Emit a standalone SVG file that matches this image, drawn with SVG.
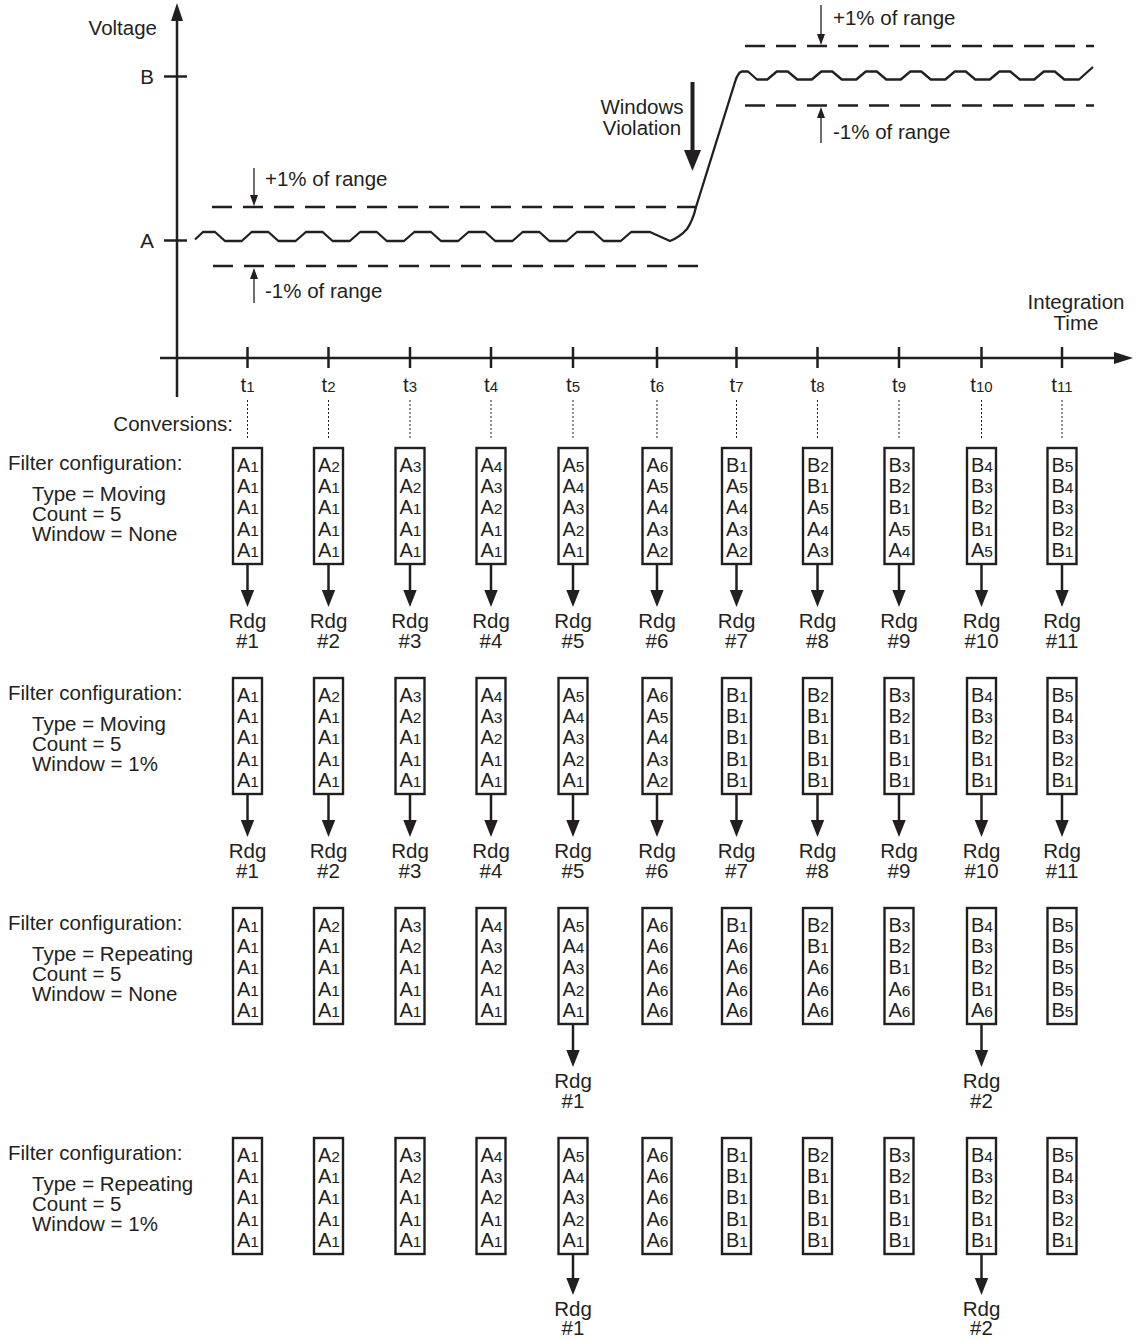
<svg xmlns="http://www.w3.org/2000/svg" width="1139" height="1339" viewBox="0 0 1139 1339">
<style>
text{font-family:"Liberation Sans",Arial,Helvetica,sans-serif;font-size:20.5px;fill:#231f20}
.mid{text-anchor:middle}.end{text-anchor:end}
.sub{font-size:15px}
.ln{stroke:#231f20;stroke-width:2.5;fill:none}
.thin{stroke:#231f20;stroke-width:1.3;fill:none}
.big{stroke:#231f20;stroke-width:4;fill:none}
.dash{stroke:#231f20;stroke-width:2.5;stroke-dasharray:20 11;fill:none}
.dot{stroke:#231f20;stroke-width:1;stroke-dasharray:2 2;fill:none}
.wave{stroke:#231f20;stroke-width:2.3;fill:none;stroke-linejoin:round}
.node rect{fill:#fff;stroke:#231f20;stroke-width:2.4}
.node text{font-size:20px}
.node .s{font-size:15.5px}
.rdg text{text-anchor:middle}
</style>
<defs>
<marker id="ah" markerUnits="userSpaceOnUse" markerWidth="17" markerHeight="14" viewBox="0 0 17 14" refX="10" refY="7" orient="auto"><path d="M0,0.3L17,7L0,13.7z" fill="#231f20"/></marker>
<marker id="ahs" markerUnits="userSpaceOnUse" markerWidth="11" markerHeight="8" viewBox="0 0 11 8" refX="5" refY="4" orient="auto"><path d="M0,0L11,4L0,8z" fill="#231f20"/></marker>
<marker id="ahb" markerUnits="userSpaceOnUse" markerWidth="21" markerHeight="17" viewBox="0 0 21 17" refX="9" refY="8.5" orient="auto"><path d="M0,0L21,8.5L0,17z" fill="#231f20"/></marker>
</defs>
<rect width="1139" height="1339" fill="#fff"/>

<g id="chart">
  <g id="axes">
    <line class="ln" x1="177" y1="20" x2="177" y2="397"/>
    <polygon points="177,3 171,21 183,21" fill="#231f20"/>
    <line class="ln" x1="160" y1="358" x2="1116" y2="358"/>
    <polygon points="1133,358 1114,352 1114,364" fill="#231f20"/>
    <line class="ln" x1="164" y1="76.5" x2="187" y2="76.5"/>
    <line class="ln" x1="164" y1="240.5" x2="187" y2="240.5"/>
    <path class="ln" d="M247.5 347V368M328.5 347V368M410 347V368M491 347V368M573 347V368M657 347V368M736.5 347V368M817.5 347V368M899 347V368M981.5 347V368M1062 347V368"/>
    <text class="end" x="157" y="35">Voltage</text>
    <text class="end" x="154" y="84">B</text>
    <text class="end" x="154" y="248">A</text>
    <text class="mid" x="1076" y="309">Integration</text>
    <text class="mid" x="1076" y="330">Time</text>
  </g>
  <g id="time-labels">
    <text class="mid" x="247.5" y="392">t<tspan class="sub">1</tspan></text>
    <text class="mid" x="328.5" y="392">t<tspan class="sub">2</tspan></text>
    <text class="mid" x="410" y="392">t<tspan class="sub">3</tspan></text>
    <text class="mid" x="491" y="392">t<tspan class="sub">4</tspan></text>
    <text class="mid" x="573" y="392">t<tspan class="sub">5</tspan></text>
    <text class="mid" x="657" y="392">t<tspan class="sub">6</tspan></text>
    <text class="mid" x="736.5" y="392">t<tspan class="sub">7</tspan></text>
    <text class="mid" x="817.5" y="392">t<tspan class="sub">8</tspan></text>
    <text class="mid" x="899" y="392">t<tspan class="sub">9</tspan></text>
    <text class="mid" x="981.5" y="392">t<tspan class="sub">10</tspan></text>
    <text class="mid" x="1062" y="392">t<tspan class="sub">11</tspan></text>
  </g>
  <g id="bands">
    <line class="dash" x1="212" y1="207" x2="700" y2="207"/>
    <line class="dash" x1="213" y1="266" x2="701" y2="266"/>
    <line class="dash" x1="745" y1="46" x2="1094" y2="46"/>
    <line class="dash" x1="745" y1="105.5" x2="1094" y2="105.5"/>
    <line class="thin" x1="254" y1="168" x2="254" y2="200" marker-end="url(#ahs)"/>
    <line class="thin" x1="254" y1="303" x2="254" y2="274" marker-end="url(#ahs)"/>
    <line class="thin" x1="821" y1="5" x2="821" y2="39" marker-end="url(#ahs)"/>
    <line class="thin" x1="821" y1="143" x2="821" y2="113" marker-end="url(#ahs)"/>
    <text x="265" y="186">+1% of range</text>
    <text x="265" y="298">-1% of range</text>
    <text x="833" y="25">+1% of range</text>
    <text x="833" y="139">-1% of range</text>
  </g>
  <g id="signal">
    <path class="wave" d="M195,239.5L203,232H215L225,241H241.7L251.7,232H268.4L278.4,241H295.6L305.9,232H322.6L332.6,241H349.8L360.1,232H376.8L386.8,241H404L414.3,232H431L441,241H458.2L468.5,232H485.2L495.2,241H512.4L522.7,232H539.4L549.4,241H566.6L576.9,232H593.6L603.6,241H620.8L631.1,232H650L670,241Q680,237 687,229Q693,220 696,207L735,82Q738,72 742,71.5H748L757,79.5H767.3L776.8,71.5H787.8L797.3,79.5H811.8L821.3,71.5H832.3L841.8,79.5H856.3L865.8,71.5H876.8L886.3,79.5H900.8L910.3,71.5H921.3L930.8,79.5H945.3L954.8,71.5H965.8L975.3,79.5H989.8L999.3,71.5H1010.3L1019.8,79.5H1034.3L1043.8,71.5H1054.8L1064.3,79.5H1079L1093,67"/>
  </g>
  <g id="violation">
    <line class="big" x1="692.5" y1="82" x2="692.5" y2="159" marker-end="url(#ahb)"/>
    <text class="mid" x="642" y="114">Windows</text>
    <text class="mid" x="642" y="135">Violation</text>
  </g>
  <g id="conversions">
    <text class="end" x="233" y="431">Conversions:</text>
    <path class="dot" d="M247.5 400V438M328.5 400V438M410 400V438M491 400V438M573 400V438M657 400V438M736.5 400V438M817.5 400V438M899 400V438M981.5 400V438M1062 400V438"/>
  </g>
</g>

<g id="config-1">
  <text x="8" y="470">Filter configuration:</text>
  <text x="32" y="500.5">Type = Moving</text>
  <text x="32" y="520.5">Count = 5</text>
  <text x="32" y="540.5">Window = None</text>
</g>
<g id="config-2" transform="translate(0 230)">
  <text x="8" y="470">Filter configuration:</text>
  <text x="32" y="500.5">Type = Moving</text>
  <text x="32" y="520.5">Count = 5</text>
  <text x="32" y="540.5">Window = 1%</text>
</g>
<g id="config-3" transform="translate(0 460)">
  <text x="8" y="470">Filter configuration:</text>
  <text x="32" y="500.5">Type = Repeating</text>
  <text x="32" y="520.5">Count = 5</text>
  <text x="32" y="540.5">Window = None</text>
</g>
<g id="config-4" transform="translate(0 690)">
  <text x="8" y="470">Filter configuration:</text>
  <text x="32" y="500.5">Type = Repeating</text>
  <text x="32" y="520.5">Count = 5</text>
  <text x="32" y="540.5">Window = 1%</text>
</g>

<!-- Section 1 -->
<g id="s1-t1" class="node" transform="translate(247.5 448)"><rect x="-14.5" width="29" height="116"/><text x="-10.5" y="24">A<tspan class="s">1</tspan></text><text x="-10.5" y="45.2">A<tspan class="s">1</tspan></text><text x="-10.5" y="66.4">A<tspan class="s">1</tspan></text><text x="-10.5" y="87.6">A<tspan class="s">1</tspan></text><text x="-10.5" y="108.8">A<tspan class="s">1</tspan></text></g>
<g id="s1-t2" class="node" transform="translate(328.5 448)"><rect x="-14.5" width="29" height="116"/><text x="-10.5" y="24">A<tspan class="s">2</tspan></text><text x="-10.5" y="45.2">A<tspan class="s">1</tspan></text><text x="-10.5" y="66.4">A<tspan class="s">1</tspan></text><text x="-10.5" y="87.6">A<tspan class="s">1</tspan></text><text x="-10.5" y="108.8">A<tspan class="s">1</tspan></text></g>
<g id="s1-t3" class="node" transform="translate(410 448)"><rect x="-14.5" width="29" height="116"/><text x="-10.5" y="24">A<tspan class="s">3</tspan></text><text x="-10.5" y="45.2">A<tspan class="s">2</tspan></text><text x="-10.5" y="66.4">A<tspan class="s">1</tspan></text><text x="-10.5" y="87.6">A<tspan class="s">1</tspan></text><text x="-10.5" y="108.8">A<tspan class="s">1</tspan></text></g>
<g id="s1-t4" class="node" transform="translate(491 448)"><rect x="-14.5" width="29" height="116"/><text x="-10.5" y="24">A<tspan class="s">4</tspan></text><text x="-10.5" y="45.2">A<tspan class="s">3</tspan></text><text x="-10.5" y="66.4">A<tspan class="s">2</tspan></text><text x="-10.5" y="87.6">A<tspan class="s">1</tspan></text><text x="-10.5" y="108.8">A<tspan class="s">1</tspan></text></g>
<g id="s1-t5" class="node" transform="translate(573 448)"><rect x="-14.5" width="29" height="116"/><text x="-10.5" y="24">A<tspan class="s">5</tspan></text><text x="-10.5" y="45.2">A<tspan class="s">4</tspan></text><text x="-10.5" y="66.4">A<tspan class="s">3</tspan></text><text x="-10.5" y="87.6">A<tspan class="s">2</tspan></text><text x="-10.5" y="108.8">A<tspan class="s">1</tspan></text></g>
<g id="s1-t6" class="node" transform="translate(657 448)"><rect x="-14.5" width="29" height="116"/><text x="-10.5" y="24">A<tspan class="s">6</tspan></text><text x="-10.5" y="45.2">A<tspan class="s">5</tspan></text><text x="-10.5" y="66.4">A<tspan class="s">4</tspan></text><text x="-10.5" y="87.6">A<tspan class="s">3</tspan></text><text x="-10.5" y="108.8">A<tspan class="s">2</tspan></text></g>
<g id="s1-t7" class="node" transform="translate(736.5 448)"><rect x="-14.5" width="29" height="116"/><text x="-10.5" y="24">B<tspan class="s">1</tspan></text><text x="-10.5" y="45.2">A<tspan class="s">5</tspan></text><text x="-10.5" y="66.4">A<tspan class="s">4</tspan></text><text x="-10.5" y="87.6">A<tspan class="s">3</tspan></text><text x="-10.5" y="108.8">A<tspan class="s">2</tspan></text></g>
<g id="s1-t8" class="node" transform="translate(817.5 448)"><rect x="-14.5" width="29" height="116"/><text x="-10.5" y="24">B<tspan class="s">2</tspan></text><text x="-10.5" y="45.2">B<tspan class="s">1</tspan></text><text x="-10.5" y="66.4">A<tspan class="s">5</tspan></text><text x="-10.5" y="87.6">A<tspan class="s">4</tspan></text><text x="-10.5" y="108.8">A<tspan class="s">3</tspan></text></g>
<g id="s1-t9" class="node" transform="translate(899 448)"><rect x="-14.5" width="29" height="116"/><text x="-10.5" y="24">B<tspan class="s">3</tspan></text><text x="-10.5" y="45.2">B<tspan class="s">2</tspan></text><text x="-10.5" y="66.4">B<tspan class="s">1</tspan></text><text x="-10.5" y="87.6">A<tspan class="s">5</tspan></text><text x="-10.5" y="108.8">A<tspan class="s">4</tspan></text></g>
<g id="s1-t10" class="node" transform="translate(981.5 448)"><rect x="-14.5" width="29" height="116"/><text x="-10.5" y="24">B<tspan class="s">4</tspan></text><text x="-10.5" y="45.2">B<tspan class="s">3</tspan></text><text x="-10.5" y="66.4">B<tspan class="s">2</tspan></text><text x="-10.5" y="87.6">B<tspan class="s">1</tspan></text><text x="-10.5" y="108.8">A<tspan class="s">5</tspan></text></g>
<g id="s1-t11" class="node" transform="translate(1062 448)"><rect x="-14.5" width="29" height="116"/><text x="-10.5" y="24">B<tspan class="s">5</tspan></text><text x="-10.5" y="45.2">B<tspan class="s">4</tspan></text><text x="-10.5" y="66.4">B<tspan class="s">3</tspan></text><text x="-10.5" y="87.6">B<tspan class="s">2</tspan></text><text x="-10.5" y="108.8">B<tspan class="s">1</tspan></text></g>

<!-- Section 2 -->
<g id="s2-t1" class="node" transform="translate(247.5 678)"><rect x="-14.5" width="29" height="116"/><text x="-10.5" y="24">A<tspan class="s">1</tspan></text><text x="-10.5" y="45.2">A<tspan class="s">1</tspan></text><text x="-10.5" y="66.4">A<tspan class="s">1</tspan></text><text x="-10.5" y="87.6">A<tspan class="s">1</tspan></text><text x="-10.5" y="108.8">A<tspan class="s">1</tspan></text></g>
<g id="s2-t2" class="node" transform="translate(328.5 678)"><rect x="-14.5" width="29" height="116"/><text x="-10.5" y="24">A<tspan class="s">2</tspan></text><text x="-10.5" y="45.2">A<tspan class="s">1</tspan></text><text x="-10.5" y="66.4">A<tspan class="s">1</tspan></text><text x="-10.5" y="87.6">A<tspan class="s">1</tspan></text><text x="-10.5" y="108.8">A<tspan class="s">1</tspan></text></g>
<g id="s2-t3" class="node" transform="translate(410 678)"><rect x="-14.5" width="29" height="116"/><text x="-10.5" y="24">A<tspan class="s">3</tspan></text><text x="-10.5" y="45.2">A<tspan class="s">2</tspan></text><text x="-10.5" y="66.4">A<tspan class="s">1</tspan></text><text x="-10.5" y="87.6">A<tspan class="s">1</tspan></text><text x="-10.5" y="108.8">A<tspan class="s">1</tspan></text></g>
<g id="s2-t4" class="node" transform="translate(491 678)"><rect x="-14.5" width="29" height="116"/><text x="-10.5" y="24">A<tspan class="s">4</tspan></text><text x="-10.5" y="45.2">A<tspan class="s">3</tspan></text><text x="-10.5" y="66.4">A<tspan class="s">2</tspan></text><text x="-10.5" y="87.6">A<tspan class="s">1</tspan></text><text x="-10.5" y="108.8">A<tspan class="s">1</tspan></text></g>
<g id="s2-t5" class="node" transform="translate(573 678)"><rect x="-14.5" width="29" height="116"/><text x="-10.5" y="24">A<tspan class="s">5</tspan></text><text x="-10.5" y="45.2">A<tspan class="s">4</tspan></text><text x="-10.5" y="66.4">A<tspan class="s">3</tspan></text><text x="-10.5" y="87.6">A<tspan class="s">2</tspan></text><text x="-10.5" y="108.8">A<tspan class="s">1</tspan></text></g>
<g id="s2-t6" class="node" transform="translate(657 678)"><rect x="-14.5" width="29" height="116"/><text x="-10.5" y="24">A<tspan class="s">6</tspan></text><text x="-10.5" y="45.2">A<tspan class="s">5</tspan></text><text x="-10.5" y="66.4">A<tspan class="s">4</tspan></text><text x="-10.5" y="87.6">A<tspan class="s">3</tspan></text><text x="-10.5" y="108.8">A<tspan class="s">2</tspan></text></g>
<g id="s2-t7" class="node" transform="translate(736.5 678)"><rect x="-14.5" width="29" height="116"/><text x="-10.5" y="24">B<tspan class="s">1</tspan></text><text x="-10.5" y="45.2">B<tspan class="s">1</tspan></text><text x="-10.5" y="66.4">B<tspan class="s">1</tspan></text><text x="-10.5" y="87.6">B<tspan class="s">1</tspan></text><text x="-10.5" y="108.8">B<tspan class="s">1</tspan></text></g>
<g id="s2-t8" class="node" transform="translate(817.5 678)"><rect x="-14.5" width="29" height="116"/><text x="-10.5" y="24">B<tspan class="s">2</tspan></text><text x="-10.5" y="45.2">B<tspan class="s">1</tspan></text><text x="-10.5" y="66.4">B<tspan class="s">1</tspan></text><text x="-10.5" y="87.6">B<tspan class="s">1</tspan></text><text x="-10.5" y="108.8">B<tspan class="s">1</tspan></text></g>
<g id="s2-t9" class="node" transform="translate(899 678)"><rect x="-14.5" width="29" height="116"/><text x="-10.5" y="24">B<tspan class="s">3</tspan></text><text x="-10.5" y="45.2">B<tspan class="s">2</tspan></text><text x="-10.5" y="66.4">B<tspan class="s">1</tspan></text><text x="-10.5" y="87.6">B<tspan class="s">1</tspan></text><text x="-10.5" y="108.8">B<tspan class="s">1</tspan></text></g>
<g id="s2-t10" class="node" transform="translate(981.5 678)"><rect x="-14.5" width="29" height="116"/><text x="-10.5" y="24">B<tspan class="s">4</tspan></text><text x="-10.5" y="45.2">B<tspan class="s">3</tspan></text><text x="-10.5" y="66.4">B<tspan class="s">2</tspan></text><text x="-10.5" y="87.6">B<tspan class="s">1</tspan></text><text x="-10.5" y="108.8">B<tspan class="s">1</tspan></text></g>
<g id="s2-t11" class="node" transform="translate(1062 678)"><rect x="-14.5" width="29" height="116"/><text x="-10.5" y="24">B<tspan class="s">5</tspan></text><text x="-10.5" y="45.2">B<tspan class="s">4</tspan></text><text x="-10.5" y="66.4">B<tspan class="s">3</tspan></text><text x="-10.5" y="87.6">B<tspan class="s">2</tspan></text><text x="-10.5" y="108.8">B<tspan class="s">1</tspan></text></g>

<!-- Section 3 -->
<g id="s3-t1" class="node" transform="translate(247.5 908)"><rect x="-14.5" width="29" height="116"/><text x="-10.5" y="24">A<tspan class="s">1</tspan></text><text x="-10.5" y="45.2">A<tspan class="s">1</tspan></text><text x="-10.5" y="66.4">A<tspan class="s">1</tspan></text><text x="-10.5" y="87.6">A<tspan class="s">1</tspan></text><text x="-10.5" y="108.8">A<tspan class="s">1</tspan></text></g>
<g id="s3-t2" class="node" transform="translate(328.5 908)"><rect x="-14.5" width="29" height="116"/><text x="-10.5" y="24">A<tspan class="s">2</tspan></text><text x="-10.5" y="45.2">A<tspan class="s">1</tspan></text><text x="-10.5" y="66.4">A<tspan class="s">1</tspan></text><text x="-10.5" y="87.6">A<tspan class="s">1</tspan></text><text x="-10.5" y="108.8">A<tspan class="s">1</tspan></text></g>
<g id="s3-t3" class="node" transform="translate(410 908)"><rect x="-14.5" width="29" height="116"/><text x="-10.5" y="24">A<tspan class="s">3</tspan></text><text x="-10.5" y="45.2">A<tspan class="s">2</tspan></text><text x="-10.5" y="66.4">A<tspan class="s">1</tspan></text><text x="-10.5" y="87.6">A<tspan class="s">1</tspan></text><text x="-10.5" y="108.8">A<tspan class="s">1</tspan></text></g>
<g id="s3-t4" class="node" transform="translate(491 908)"><rect x="-14.5" width="29" height="116"/><text x="-10.5" y="24">A<tspan class="s">4</tspan></text><text x="-10.5" y="45.2">A<tspan class="s">3</tspan></text><text x="-10.5" y="66.4">A<tspan class="s">2</tspan></text><text x="-10.5" y="87.6">A<tspan class="s">1</tspan></text><text x="-10.5" y="108.8">A<tspan class="s">1</tspan></text></g>
<g id="s3-t5" class="node" transform="translate(573 908)"><rect x="-14.5" width="29" height="116"/><text x="-10.5" y="24">A<tspan class="s">5</tspan></text><text x="-10.5" y="45.2">A<tspan class="s">4</tspan></text><text x="-10.5" y="66.4">A<tspan class="s">3</tspan></text><text x="-10.5" y="87.6">A<tspan class="s">2</tspan></text><text x="-10.5" y="108.8">A<tspan class="s">1</tspan></text></g>
<g id="s3-t6" class="node" transform="translate(657 908)"><rect x="-14.5" width="29" height="116"/><text x="-10.5" y="24">A<tspan class="s">6</tspan></text><text x="-10.5" y="45.2">A<tspan class="s">6</tspan></text><text x="-10.5" y="66.4">A<tspan class="s">6</tspan></text><text x="-10.5" y="87.6">A<tspan class="s">6</tspan></text><text x="-10.5" y="108.8">A<tspan class="s">6</tspan></text></g>
<g id="s3-t7" class="node" transform="translate(736.5 908)"><rect x="-14.5" width="29" height="116"/><text x="-10.5" y="24">B<tspan class="s">1</tspan></text><text x="-10.5" y="45.2">A<tspan class="s">6</tspan></text><text x="-10.5" y="66.4">A<tspan class="s">6</tspan></text><text x="-10.5" y="87.6">A<tspan class="s">6</tspan></text><text x="-10.5" y="108.8">A<tspan class="s">6</tspan></text></g>
<g id="s3-t8" class="node" transform="translate(817.5 908)"><rect x="-14.5" width="29" height="116"/><text x="-10.5" y="24">B<tspan class="s">2</tspan></text><text x="-10.5" y="45.2">B<tspan class="s">1</tspan></text><text x="-10.5" y="66.4">A<tspan class="s">6</tspan></text><text x="-10.5" y="87.6">A<tspan class="s">6</tspan></text><text x="-10.5" y="108.8">A<tspan class="s">6</tspan></text></g>
<g id="s3-t9" class="node" transform="translate(899 908)"><rect x="-14.5" width="29" height="116"/><text x="-10.5" y="24">B<tspan class="s">3</tspan></text><text x="-10.5" y="45.2">B<tspan class="s">2</tspan></text><text x="-10.5" y="66.4">B<tspan class="s">1</tspan></text><text x="-10.5" y="87.6">A<tspan class="s">6</tspan></text><text x="-10.5" y="108.8">A<tspan class="s">6</tspan></text></g>
<g id="s3-t10" class="node" transform="translate(981.5 908)"><rect x="-14.5" width="29" height="116"/><text x="-10.5" y="24">B<tspan class="s">4</tspan></text><text x="-10.5" y="45.2">B<tspan class="s">3</tspan></text><text x="-10.5" y="66.4">B<tspan class="s">2</tspan></text><text x="-10.5" y="87.6">B<tspan class="s">1</tspan></text><text x="-10.5" y="108.8">A<tspan class="s">6</tspan></text></g>
<g id="s3-t11" class="node" transform="translate(1062 908)"><rect x="-14.5" width="29" height="116"/><text x="-10.5" y="24">B<tspan class="s">5</tspan></text><text x="-10.5" y="45.2">B<tspan class="s">5</tspan></text><text x="-10.5" y="66.4">B<tspan class="s">5</tspan></text><text x="-10.5" y="87.6">B<tspan class="s">5</tspan></text><text x="-10.5" y="108.8">B<tspan class="s">5</tspan></text></g>

<!-- Section 4 -->
<g id="s4-t1" class="node" transform="translate(247.5 1138)"><rect x="-14.5" width="29" height="116"/><text x="-10.5" y="24">A<tspan class="s">1</tspan></text><text x="-10.5" y="45.2">A<tspan class="s">1</tspan></text><text x="-10.5" y="66.4">A<tspan class="s">1</tspan></text><text x="-10.5" y="87.6">A<tspan class="s">1</tspan></text><text x="-10.5" y="108.8">A<tspan class="s">1</tspan></text></g>
<g id="s4-t2" class="node" transform="translate(328.5 1138)"><rect x="-14.5" width="29" height="116"/><text x="-10.5" y="24">A<tspan class="s">2</tspan></text><text x="-10.5" y="45.2">A<tspan class="s">1</tspan></text><text x="-10.5" y="66.4">A<tspan class="s">1</tspan></text><text x="-10.5" y="87.6">A<tspan class="s">1</tspan></text><text x="-10.5" y="108.8">A<tspan class="s">1</tspan></text></g>
<g id="s4-t3" class="node" transform="translate(410 1138)"><rect x="-14.5" width="29" height="116"/><text x="-10.5" y="24">A<tspan class="s">3</tspan></text><text x="-10.5" y="45.2">A<tspan class="s">2</tspan></text><text x="-10.5" y="66.4">A<tspan class="s">1</tspan></text><text x="-10.5" y="87.6">A<tspan class="s">1</tspan></text><text x="-10.5" y="108.8">A<tspan class="s">1</tspan></text></g>
<g id="s4-t4" class="node" transform="translate(491 1138)"><rect x="-14.5" width="29" height="116"/><text x="-10.5" y="24">A<tspan class="s">4</tspan></text><text x="-10.5" y="45.2">A<tspan class="s">3</tspan></text><text x="-10.5" y="66.4">A<tspan class="s">2</tspan></text><text x="-10.5" y="87.6">A<tspan class="s">1</tspan></text><text x="-10.5" y="108.8">A<tspan class="s">1</tspan></text></g>
<g id="s4-t5" class="node" transform="translate(573 1138)"><rect x="-14.5" width="29" height="116"/><text x="-10.5" y="24">A<tspan class="s">5</tspan></text><text x="-10.5" y="45.2">A<tspan class="s">4</tspan></text><text x="-10.5" y="66.4">A<tspan class="s">3</tspan></text><text x="-10.5" y="87.6">A<tspan class="s">2</tspan></text><text x="-10.5" y="108.8">A<tspan class="s">1</tspan></text></g>
<g id="s4-t6" class="node" transform="translate(657 1138)"><rect x="-14.5" width="29" height="116"/><text x="-10.5" y="24">A<tspan class="s">6</tspan></text><text x="-10.5" y="45.2">A<tspan class="s">6</tspan></text><text x="-10.5" y="66.4">A<tspan class="s">6</tspan></text><text x="-10.5" y="87.6">A<tspan class="s">6</tspan></text><text x="-10.5" y="108.8">A<tspan class="s">6</tspan></text></g>
<g id="s4-t7" class="node" transform="translate(736.5 1138)"><rect x="-14.5" width="29" height="116"/><text x="-10.5" y="24">B<tspan class="s">1</tspan></text><text x="-10.5" y="45.2">B<tspan class="s">1</tspan></text><text x="-10.5" y="66.4">B<tspan class="s">1</tspan></text><text x="-10.5" y="87.6">B<tspan class="s">1</tspan></text><text x="-10.5" y="108.8">B<tspan class="s">1</tspan></text></g>
<g id="s4-t8" class="node" transform="translate(817.5 1138)"><rect x="-14.5" width="29" height="116"/><text x="-10.5" y="24">B<tspan class="s">2</tspan></text><text x="-10.5" y="45.2">B<tspan class="s">1</tspan></text><text x="-10.5" y="66.4">B<tspan class="s">1</tspan></text><text x="-10.5" y="87.6">B<tspan class="s">1</tspan></text><text x="-10.5" y="108.8">B<tspan class="s">1</tspan></text></g>
<g id="s4-t9" class="node" transform="translate(899 1138)"><rect x="-14.5" width="29" height="116"/><text x="-10.5" y="24">B<tspan class="s">3</tspan></text><text x="-10.5" y="45.2">B<tspan class="s">2</tspan></text><text x="-10.5" y="66.4">B<tspan class="s">1</tspan></text><text x="-10.5" y="87.6">B<tspan class="s">1</tspan></text><text x="-10.5" y="108.8">B<tspan class="s">1</tspan></text></g>
<g id="s4-t10" class="node" transform="translate(981.5 1138)"><rect x="-14.5" width="29" height="116"/><text x="-10.5" y="24">B<tspan class="s">4</tspan></text><text x="-10.5" y="45.2">B<tspan class="s">3</tspan></text><text x="-10.5" y="66.4">B<tspan class="s">2</tspan></text><text x="-10.5" y="87.6">B<tspan class="s">1</tspan></text><text x="-10.5" y="108.8">B<tspan class="s">1</tspan></text></g>
<g id="s4-t11" class="node" transform="translate(1062 1138)"><rect x="-14.5" width="29" height="116"/><text x="-10.5" y="24">B<tspan class="s">5</tspan></text><text x="-10.5" y="45.2">B<tspan class="s">4</tspan></text><text x="-10.5" y="66.4">B<tspan class="s">3</tspan></text><text x="-10.5" y="87.6">B<tspan class="s">2</tspan></text><text x="-10.5" y="108.8">B<tspan class="s">1</tspan></text></g>

<!-- Reading labels -->
<g id="s1-r1" class="rdg" transform="translate(247.5 628)"><text>Rdg</text><text y="20">#1</text></g>
<g id="s1-r2" class="rdg" transform="translate(328.5 628)"><text>Rdg</text><text y="20">#2</text></g>
<g id="s1-r3" class="rdg" transform="translate(410 628)"><text>Rdg</text><text y="20">#3</text></g>
<g id="s1-r4" class="rdg" transform="translate(491 628)"><text>Rdg</text><text y="20">#4</text></g>
<g id="s1-r5" class="rdg" transform="translate(573 628)"><text>Rdg</text><text y="20">#5</text></g>
<g id="s1-r6" class="rdg" transform="translate(657 628)"><text>Rdg</text><text y="20">#6</text></g>
<g id="s1-r7" class="rdg" transform="translate(736.5 628)"><text>Rdg</text><text y="20">#7</text></g>
<g id="s1-r8" class="rdg" transform="translate(817.5 628)"><text>Rdg</text><text y="20">#8</text></g>
<g id="s1-r9" class="rdg" transform="translate(899 628)"><text>Rdg</text><text y="20">#9</text></g>
<g id="s1-r10" class="rdg" transform="translate(981.5 628)"><text>Rdg</text><text y="20">#10</text></g>
<g id="s1-r11" class="rdg" transform="translate(1062 628)"><text>Rdg</text><text y="20">#11</text></g>
<g id="s2-r1" class="rdg" transform="translate(247.5 858)"><text>Rdg</text><text y="20">#1</text></g>
<g id="s2-r2" class="rdg" transform="translate(328.5 858)"><text>Rdg</text><text y="20">#2</text></g>
<g id="s2-r3" class="rdg" transform="translate(410 858)"><text>Rdg</text><text y="20">#3</text></g>
<g id="s2-r4" class="rdg" transform="translate(491 858)"><text>Rdg</text><text y="20">#4</text></g>
<g id="s2-r5" class="rdg" transform="translate(573 858)"><text>Rdg</text><text y="20">#5</text></g>
<g id="s2-r6" class="rdg" transform="translate(657 858)"><text>Rdg</text><text y="20">#6</text></g>
<g id="s2-r7" class="rdg" transform="translate(736.5 858)"><text>Rdg</text><text y="20">#7</text></g>
<g id="s2-r8" class="rdg" transform="translate(817.5 858)"><text>Rdg</text><text y="20">#8</text></g>
<g id="s2-r9" class="rdg" transform="translate(899 858)"><text>Rdg</text><text y="20">#9</text></g>
<g id="s2-r10" class="rdg" transform="translate(981.5 858)"><text>Rdg</text><text y="20">#10</text></g>
<g id="s2-r11" class="rdg" transform="translate(1062 858)"><text>Rdg</text><text y="20">#11</text></g>
<g id="s3-r1" class="rdg" transform="translate(573 1088)"><text>Rdg</text><text y="20">#1</text></g>
<g id="s3-r2" class="rdg" transform="translate(981.5 1088)"><text>Rdg</text><text y="20">#2</text></g>
<g id="s4-r1" class="rdg" transform="translate(573 1316)"><text>Rdg</text><text y="19">#1</text></g>
<g id="s4-r2" class="rdg" transform="translate(981.5 1316)"><text>Rdg</text><text y="19">#2</text></g>

<g id="connectors">
  <path class="ln" marker-end="url(#ah)" d="M247.5 565V600"/>
  <path class="ln" marker-end="url(#ah)" d="M328.5 565V600"/>
  <path class="ln" marker-end="url(#ah)" d="M410 565V600"/>
  <path class="ln" marker-end="url(#ah)" d="M491 565V600"/>
  <path class="ln" marker-end="url(#ah)" d="M573 565V600"/>
  <path class="ln" marker-end="url(#ah)" d="M657 565V600"/>
  <path class="ln" marker-end="url(#ah)" d="M736.5 565V600"/>
  <path class="ln" marker-end="url(#ah)" d="M817.5 565V600"/>
  <path class="ln" marker-end="url(#ah)" d="M899 565V600"/>
  <path class="ln" marker-end="url(#ah)" d="M981.5 565V600"/>
  <path class="ln" marker-end="url(#ah)" d="M1062 565V600"/>
  <path class="ln" marker-end="url(#ah)" d="M247.5 795V830"/>
  <path class="ln" marker-end="url(#ah)" d="M328.5 795V830"/>
  <path class="ln" marker-end="url(#ah)" d="M410 795V830"/>
  <path class="ln" marker-end="url(#ah)" d="M491 795V830"/>
  <path class="ln" marker-end="url(#ah)" d="M573 795V830"/>
  <path class="ln" marker-end="url(#ah)" d="M657 795V830"/>
  <path class="ln" marker-end="url(#ah)" d="M736.5 795V830"/>
  <path class="ln" marker-end="url(#ah)" d="M817.5 795V830"/>
  <path class="ln" marker-end="url(#ah)" d="M899 795V830"/>
  <path class="ln" marker-end="url(#ah)" d="M981.5 795V830"/>
  <path class="ln" marker-end="url(#ah)" d="M1062 795V830"/>
  <path class="ln" marker-end="url(#ah)" d="M573 1025V1060"/>
  <path class="ln" marker-end="url(#ah)" d="M981.5 1025V1060"/>
  <path class="ln" marker-end="url(#ah)" d="M573 1255V1288"/>
  <path class="ln" marker-end="url(#ah)" d="M981.5 1255V1288"/>
</g>
</svg>
